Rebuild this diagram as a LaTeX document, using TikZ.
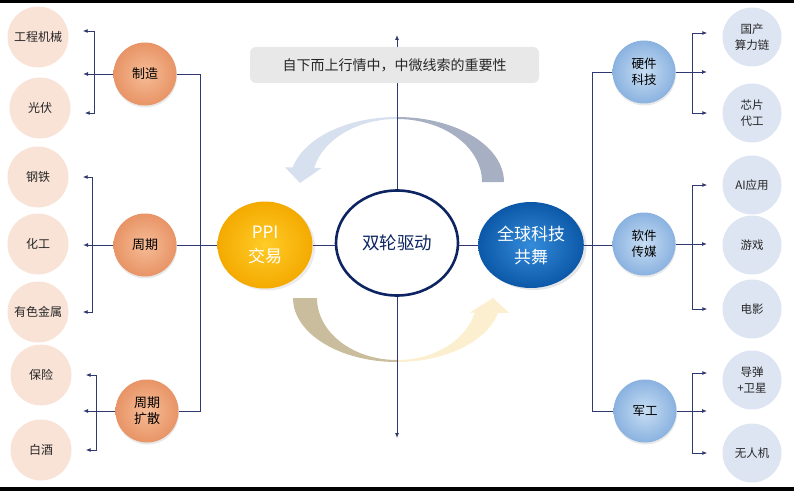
\documentclass[tikz,border=0pt]{standalone}
\usepackage{fontspec}
\setmainfont{Noto Sans CJK SC}
\usetikzlibrary{positioning,arrows.meta,calc,shapes.geometric,shadows}

\definecolor{navyline}{HTML}{2F3870}
\definecolor{peach}{HTML}{F9E3D7}
\definecolor{paleblue}{HTML}{DDE5F2}
\definecolor{boxgray}{HTML}{E8E8E8}
\definecolor{hubnavy}{HTML}{0C2461}
\definecolor{arclight}{HTML}{D7E0EF}
\definecolor{arcgray}{HTML}{A7B0C2}
\definecolor{arckhaki}{HTML}{CABD9D}
\definecolor{arccream}{HTML}{FBEFD0}

\begin{document}
\begin{tikzpicture}[x=1pt,y=1pt,
  link/.style={draw=navyline,line width=0.9pt},
  tip/.style={link,-{Latex[length=5pt,width=4pt]}},
  leafL/.style={circle,fill=peach,minimum size=61pt,inner sep=0pt,align=center,
    text=black!85,font=\fontsize{12}{16}\selectfont},
  leafR/.style={leafL,fill=paleblue,minimum size=59pt,font=\fontsize{11.5}{16}\selectfont},
  midL/.style={circle,minimum size=63pt,inner sep=0pt,align=center,
    shading=radial,inner color={rgb,255:red,246;green,188;blue,150},
    outer color={rgb,255:red,232;green,148;blue,102},
    drop shadow={opacity=0.18,shadow xshift=0.5pt,shadow yshift=-2pt},
    font=\fontsize{13}{16}\selectfont},
  midR/.style={midL,inner color={rgb,255:red,200;green,222;blue,243},
    outer color={rgb,255:red,138;green,178;blue,224},
    font=\fontsize{12.5}{16}\selectfont}]

\useasboundingbox (0,0) rectangle (794,491);
\fill[black] (0,488) rectangle (794,491);
\fill[black] (0,0) rectangle (794,4);

% cycle arrows
\fill[arcgray] (504,309) arc[start angle=0,end angle=90,x radius=107pt,y radius=65pt]
  -- (397,372) arc[start angle=90,end angle=0,x radius=85pt,y radius=63pt] -- cycle;
\fill[arclight] (397,374) arc[start angle=90,end angle=167,x radius=107pt,y radius=65pt]
  -- (285,323.6) -- (300,308) -- (322,323.2) -- (314.2,323.2)
  arc[start angle=167,end angle=90,x radius=85pt,y radius=63pt] -- cycle;
\fill[arckhaki] (293,193) arc[start angle=180,end angle=270,x radius=104pt,y radius=64pt]
  -- (397,131) arc[start angle=270,end angle=180,x radius=80pt,y radius=62pt] -- cycle;
\fill[arccream] (397,129) arc[start angle=270,end angle=346.5,x radius=104pt,y radius=64pt]
  -- (509,178.1) -- (493,193) -- (470,178.5) -- (474.8,178.5)
  arc[start angle=346.5,end angle=270,x radius=80pt,y radius=62pt] -- cycle;

\coordinate (up) at (397,456);
\coordinate (down) at (397,53);
\draw[link,{Latex[length=5pt,width=4pt]}-{Latex[length=5pt,width=4pt]}] (up) -- (down);

\node[fill=boxgray,rounded corners=6pt,minimum width=289pt,minimum height=36pt,
  font=\fontsize{14}{16}\selectfont,text=black!85] (title) at (394.5,426) {自下而上行情中，中微线索的重要性};

% centre
\node[ellipse,draw=hubnavy,line width=2.6pt,fill=white,minimum width=122pt,minimum height=105pt,
  text=hubnavy,font=\fontsize{17.5}{20}\selectfont] (hub) at (397,248) {双轮驱动};
\node[ellipse,minimum width=95pt,minimum height=87pt,align=center,text=white,
  shading=radial,inner color={rgb,255:red,255;green,204;blue,40},outer color={rgb,255:red,244;green,170;blue,0},
  drop shadow={opacity=0.15,shadow yshift=-2pt},font=\fontsize{17}{24}\selectfont] (ppi) at (265,246) {PPI\\交易};
\node[ellipse,minimum width=91pt,minimum height=86pt,align=center,text=white,
  shading=radial,inner color={rgb,255:red,52;green,140;blue,218},outer color={rgb,255:red,12;green,88;blue,168},
  drop shadow={opacity=0.2,shadow yshift=-2pt},font=\fontsize{17}{23}\selectfont] (tech) at (531,246) {全球科技\\共舞};

% left side
\node[midL] (zhizao) at (145,417) {制造};
\node[midL] (zhouqi) at (145,246) {周期};
\node[midL] (kuosan) at (147,80) {周期\\扩散};

\node[leafL] (jixie) at (38,454) {工程机械};
\node[leafL] (guangfu) at (40,383) {光伏};
\node[leafL] (gangtie) at (38,314) {钢铁};
\node[leafL] (huagong) at (38,247) {化工};
\node[leafL] (youse) at (38,179) {有色金属};
\node[leafL] (baoxian) at (41,116) {保险};
\node[leafL] (baijiu) at (41,41) {白酒};

% right side
\node[midR] (yingjian) at (644,419) {硬件\\科技};
\node[midR] (ruanjian) at (644,247) {软件\\传媒};
\node[midR] (jungong) at (645,80) {军工};

\node[leafR] (suanli) at (752,454) {国产\\算力链};
\node[leafR] (xinpian) at (752,378) {芯片\\代工};
\node[leafR] (aiyy) at (752,306) {AI应用};
\node[leafR] (youxi) at (752,246) {游戏};
\node[leafR] (dianying) at (752,182) {电影};
\node[leafR] (daodan) at (752,111) {导弹\\+卫星};
\node[leafR] (wurenji) at (752,38) {无人机};

% trunk lines
\draw[link] (zhizao.east) -- ++(24,0) |- (kuosan.east);
\draw[link] (zhouqi) -- (ppi);
\draw[link] (ppi.east) -- (ppi.east -| hub.west);
\draw[link] (hub.east |- tech.west) -- (tech.west);
\draw[link] (tech) -- (tech -| ruanjian.west);
\draw[link] (yingjian.west) -- ++(-20,0) |- (jungong.west);

% left brackets
\coordinate (zzend) at (83,417);
\coordinate (zqend) at (83,246);
\coordinate (ksend) at (83,80);
\draw[tip] (zhizao) -- (zzend);
\draw[tip,shorten >=14pt] (zhizao.west) -- ++(-19,0) |- ([yshift=6pt]jixie.east);
\draw[tip,shorten >=14pt] (zhizao.west) -- ++(-19,0) |- ([yshift=-5pt]guangfu.east);
\draw[tip] (zhouqi) -- (zqend);
\draw[tip,shorten >=14pt] (zhouqi.west) -- ++(-21,0) |- (gangtie);
\draw[tip,shorten >=14pt] (zhouqi.west) -- ++(-21,0) |- (youse);
\draw[tip] (kuosan) -- (ksend);
\draw[tip,shorten >=14pt] (kuosan.west) -- ++(-19,0) |- (baoxian);
\draw[tip,shorten >=14pt] (kuosan.west) -- ++(-19,0) |- (baijiu);

% right brackets
\coordinate (yjend) at (707,419);
\coordinate (rjend) at (707,247);
\coordinate (jgend) at (707,80);
\draw[tip] (yingjian) -- (yjend);
\draw[tip,shorten >=15pt] (yingjian.east) -- ++(17,0) |- ([yshift=4pt]suanli.west);
\draw[tip,shorten >=15pt] (yingjian.east) -- ++(17,0) |- (xinpian);
\draw[tip] (ruanjian) -- (rjend);
\draw[tip,shorten >=15pt] (ruanjian.east) -- ++(17,0) |- (aiyy);
\draw[tip,shorten >=15pt] (ruanjian.east) -- ++(17,0) |- (dianying);
\draw[tip] (jungong) -- (jgend);
\draw[tip,shorten >=15pt] (jungong.east) -- ++(16,0) |- ([yshift=7pt]daodan.west);
\draw[tip,shorten >=15pt] (jungong.east) -- ++(16,0) |- (wurenji);
\end{tikzpicture}
\end{document}
